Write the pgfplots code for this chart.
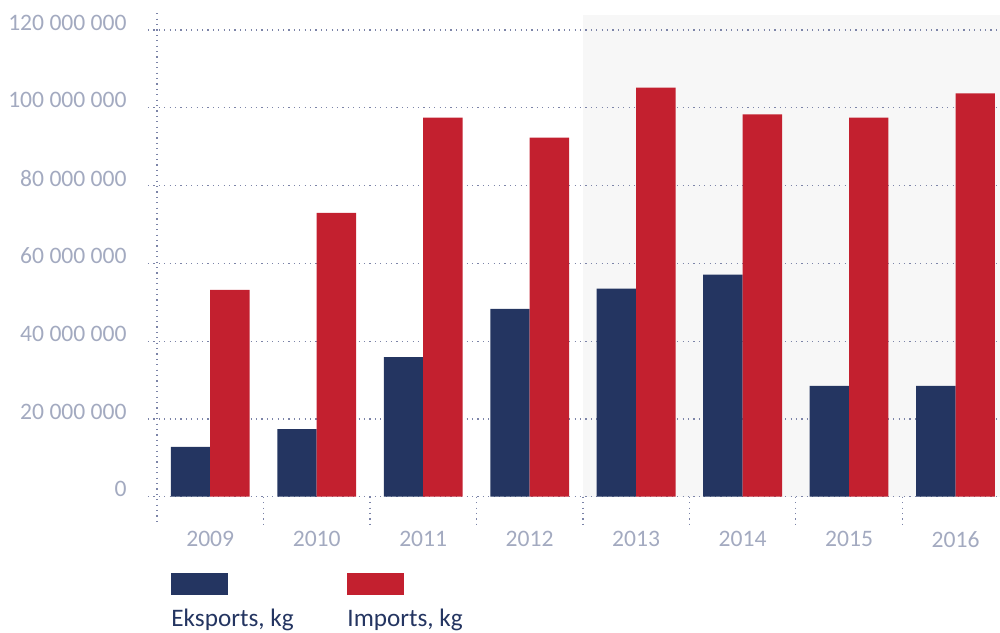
\documentclass[border=0pt]{standalone}
\usepackage{fontspec}
\setmainfont{Carlito}
\usepackage{pgfplots}
\pgfplotsset{compat=1.18}

\definecolor{cExp}{HTML}{243561}
\definecolor{cImp}{HTML}{C3202F}
\definecolor{cBg}{HTML}{F7F7F7}
\definecolor{cGrid}{HTML}{7C84A8}
\definecolor{cTick}{HTML}{A3AAC0}

\tikzset{gridline/.style={cGrid, line width=0.6pt, dash pattern=on 0.6pt off 2.1pt}}

\begin{document}
\begin{tikzpicture}[x=1pt,y=1pt]
  % values in millions of kg
  \begin{axis}[
      set layers,
      at={(78.5pt,67.65pt)}, anchor=south west,
      scale only axis, width=425.9pt, height=233.35pt,
      xmin=-0.5, xmax=7.5, ymin=0, ymax=120,
      clip=false,
      axis line style={draw=none}, tick style={draw=none},
      xtick={0,1,2,3,4,5,6,7},
      xticklabels={2009,2010,2011,2012,2013,2014,2015,2016},
      ytick={0,20,40,60,80,100,120},
      yticklabels={0,20 000 000,40 000 000,60 000 000,80 000 000,100 000 000,120 000 000},
      yticklabel style={font=\fontsize{11.8}{14}\selectfont, text=cTick,
                        anchor=east, inner sep=0pt, xshift=-15pt, yshift=3.7pt},
      xticklabel style={font=\fontsize{11.8}{14}\selectfont, text=cTick,
                        anchor=north, inner sep=0pt, yshift=-17pt},
    ]
    \begin{pgfonlayer}{axis background}
      \fill[cBg] (axis cs:3.5,0) rectangle (axis cs:7.5,123.8);
      \pgfplotsinvokeforeach{0,20,40,60,80,100,120}{
        \draw[gridline] (axis cs:-0.585,#1) -- (axis cs:7.5,#1);
      }
      \draw[gridline] (axis cs:-0.5,124.3) -- (axis cs:-0.5,-7.03);
    \end{pgfonlayer}
    \pgfplotsinvokeforeach{0.5,1.5,2.5,3.5,4.5,5.5,6.5}{
      \draw[gridline] (axis cs:#1,0) -- (axis cs:#1,-7.03);
    }
    % Eksports
    \addplot[ybar, bar width=0.37, bar shift=-0.185, fill=cExp, draw=none]
      coordinates {(0,12.8) (1,17.4) (2,35.9) (3,48.3)
                   (4,53.5) (5,57.1) (6,28.5) (7,28.5)};
    % Imports
    \addplot[ybar, bar width=0.37, bar shift=0.185, fill=cImp, draw=none]
      coordinates {(0,53.2) (1,73.0) (2,97.5) (3,92.3)
                   (4,105.2) (5,98.3) (6,97.5) (7,103.7)};
  \end{axis}
  % legend
  \fill[cExp] (85.5,18.5) rectangle (114,29.5);
  \fill[cImp] (173.5,18.5) rectangle (202,29.5);
  \node[anchor=base west, inner sep=0pt, text=cExp, font=\fontsize{12.6}{15}\selectfont]
    at (85.5,2.65) {Eksports, kg};
  \node[anchor=base west, inner sep=0pt, text=cExp, font=\fontsize{12.6}{15}\selectfont]
    at (173.5,2.65) {Imports, kg};
  \pgfresetboundingbox
  \useasboundingbox (0,0) rectangle (500,316);
\end{tikzpicture}
\end{document}
